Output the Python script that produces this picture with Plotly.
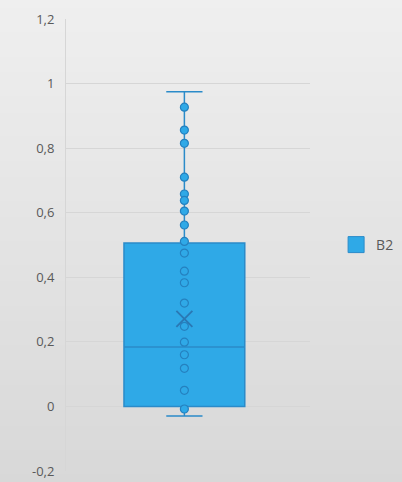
import plotly.graph_objects as go

# Series B2: individual observations and summary statistics
series_name = "B2"
values = [0.927, 0.856, 0.815, 0.710, 0.658, 0.638, 0.605, 0.562, 0.511,
          0.475, 0.419, 0.383, 0.320, 0.248, 0.199, 0.160, 0.118, 0.050, -0.008]
q1 = 0.0
median = 0.184
q3 = 0.506
lower_fence = -0.030
upper_fence = 0.975
mean = 0.271

# Y axis ticks
y_ticks = [-0.2, 0, 0.2, 0.4, 0.6, 0.8, 1, 1.2]
y_tick_labels = ["-0,2", "0", "0,2", "0,4", "0,6", "0,8", "1", "1,2"]

fill_blue = "#2fa9e7"
edge_blue = "#2b8bc9"
text_grey = "#595959"
grid_grey = "#d6d6d6"

fig = go.Figure()

fig.add_trace(go.Box(
    x=[0], q1=[q1], median=[median], q3=[q3],
    lowerfence=[lower_fence], upperfence=[upper_fence],
    width=0.5, whiskerwidth=0.3,
    fillcolor=fill_blue,
    line=dict(color=edge_blue, width=1.5),
    boxpoints=False, showlegend=False, hoverinfo="skip",
))

fig.add_trace(go.Scatter(
    x=[0] * len(values), y=values, mode="markers",
    marker=dict(size=8, color=fill_blue, line=dict(color="#2581bf", width=1.2)),
    showlegend=False, hoverinfo="y",
))

fig.add_trace(go.Scatter(
    x=[0], y=[mean], mode="markers",
    marker=dict(symbol="x-thin-open", size=16, color="#2a78b4",
                line=dict(color="#2a78b4", width=1.8)),
    showlegend=False, hoverinfo="y",
))

# Legend entry for the series
fig.add_trace(go.Scatter(
    x=[None], y=[None], mode="markers", name=series_name,
    marker=dict(symbol="square", size=20, color=fill_blue,
                line=dict(color=edge_blue, width=1)),
))

# Vertical grey gradient behind the whole chart
W, H = 402, 482
ml, mr, mt, mb = 66, 92, 19, 11
pw, ph = W - ml - mr, H - mt - mb
top_rgb = (239, 239, 239)
bot_rgb = (216, 216, 216)
bands = 60
shapes = []
for i in range(bands):
    t = (i + 0.5) / bands
    c = tuple(round(top_rgb[k] + (bot_rgb[k] - top_rgb[k]) * t) for k in range(3))
    y_top_px = H * i / bands
    y_bot_px = H * (i + 1) / bands + 1
    shapes.append(dict(
        type="rect", xref="paper", yref="paper", layer="below",
        x0=-ml / pw, x1=1 + mr / pw,
        y0=1 + mt / ph - y_bot_px / ph, y1=1 + mt / ph - y_top_px / ph,
        line=dict(width=0), fillcolor="rgb(%d,%d,%d)" % c,
    ))

fig.update_layout(
    width=W, height=H,
    margin=dict(l=ml, r=mr, t=mt, b=mb, autoexpand=False),
    paper_bgcolor="#e3e3e3",
    plot_bgcolor="rgba(0,0,0,0)",
    shapes=shapes,
    font=dict(family="Open Sans, DejaVu Sans, sans-serif", size=13, color=text_grey),
    showlegend=True,
    legend=dict(x=1.107, xanchor="left", y=0.5, yanchor="middle",
                bgcolor="rgba(0,0,0,0)", font=dict(size=14, color=text_grey)),
    xaxis=dict(range=[-0.49, 0.52], showticklabels=False, showgrid=False,
               zeroline=False, showline=False, ticks="", automargin=False),
    yaxis=dict(range=[-0.2, 1.2], tickvals=y_ticks, ticktext=y_tick_labels,
               showgrid=True, gridcolor=grid_grey, gridwidth=1,
               zeroline=False, showline=True, linecolor=grid_grey, linewidth=1,
               ticks="", ticklabelstandoff=8, automargin=False),
)

fig.write_html("out.html")
